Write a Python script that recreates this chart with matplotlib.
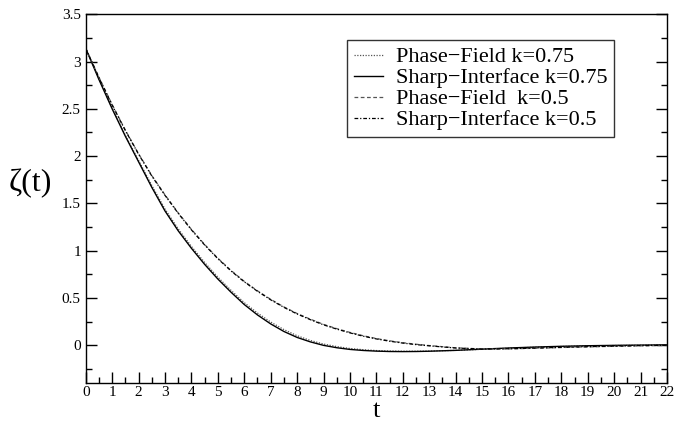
import matplotlib
matplotlib.use("Agg")
import matplotlib.pyplot as plt
from matplotlib.ticker import MultipleLocator

plt.rcParams['font.family'] = ['Liberation Serif', 'DejaVu Serif']

t = [0, 0.5, 1, 1.5, 2, 2.5, 3, 3.5, 4, 4.5, 5, 5.5, 6, 6.5, 7, 7.5, 8, 8.5,
     9, 9.5, 10, 10.5, 11, 11.5, 12, 12.5, 13, 14, 15, 16, 17, 18, 19, 20, 21, 22]

pf_075 = [3.14, 2.82, 2.51, 2.22, 1.955, 1.69, 1.44, 1.23, 1.045, 0.875, 0.72, 0.58, 0.45,
          0.34, 0.245, 0.165, 0.10, 0.05, 0.012, -0.015, -0.035, -0.048, -0.057, -0.062, -0.064,
          -0.064, -0.062, -0.055, -0.044, -0.032, -0.022, -0.014, -0.008, -0.004, -0.001, 0.001]
si_075 = [3.14, 2.81, 2.50, 2.21, 1.94, 1.67, 1.42, 1.21, 1.025, 0.855, 0.70, 0.56, 0.43,
          0.32, 0.225, 0.145, 0.082, 0.035, -0.002, -0.027, -0.045, -0.056, -0.063, -0.067, -0.068,
          -0.067, -0.064, -0.055, -0.042, -0.030, -0.020, -0.012, -0.006, -0.002, 0.001, 0.003]
pf_05 = [3.14, 2.835, 2.545, 2.275, 2.025, 1.795, 1.59, 1.40, 1.225, 1.065, 0.92, 0.79, 0.675,
         0.575, 0.485, 0.405, 0.335, 0.275, 0.22, 0.175, 0.135, 0.10, 0.07, 0.046, 0.026, 0.01,
         -0.004, -0.028, -0.04, -0.039, -0.033, -0.025, -0.018, -0.012, -0.007, -0.003]
si_05 = [3.14, 2.83, 2.54, 2.27, 2.02, 1.79, 1.585, 1.395, 1.22, 1.06, 0.915, 0.785, 0.67,
         0.57, 0.48, 0.40, 0.33, 0.27, 0.215, 0.17, 0.13, 0.095, 0.066, 0.042, 0.022, 0.006,
         -0.007, -0.03, -0.041, -0.038, -0.031, -0.023, -0.016, -0.010, -0.005, -0.001]

labels = ["Phase\u2212Field k=0.75", "Sharp\u2212Interface k=0.75",
          "Phase\u2212Field  k=0.5", "Sharp\u2212Interface k=0.5"]

fig = plt.figure(figsize=(6.76, 4.23), dpi=100)
ax = fig.add_axes([0.1268, 0.0946, 0.8599, 0.8716])

ax.plot(t, pf_075, color='#555555', lw=0.9, linestyle=(0, (1, 1.2)), label=labels[0])
ax.plot(t, si_075, color='black', lw=1.0, linestyle='-', label=labels[1])
ax.plot(t, pf_05, color='#555555', lw=0.9, linestyle=(0, (3, 2)), label=labels[2])
ax.plot(t, si_05, color='black', lw=0.9, linestyle=(0, (3, 1.5, 1, 1.5)), label=labels[3])

ax.set_xlim(0, 22)
ax.set_ylim(-0.4, 3.5)
ax.xaxis.set_major_locator(MultipleLocator(1))
ax.xaxis.set_minor_locator(MultipleLocator(0.5))
ax.yaxis.set_minor_locator(MultipleLocator(0.25))
ax.set_yticks([0, 0.5, 1, 1.5, 2, 2.5, 3, 3.5])
ax.set_yticklabels(['0', '0.5', '1', '1.5', '2', '2.5', '3', '3.5'])
ax.tick_params(which='both', direction='in', top=False, right=True, labelsize=11, width=1.0)
ax.tick_params(axis='x', which='major', pad=2.5)
ax.tick_params(which='major', length=8)
ax.tick_params(which='minor', length=4)
for s in ax.spines.values():
    s.set_linewidth(1.0)

ax.set_xlabel('t', fontsize=19)
ax.xaxis.set_label_coords(0.5, -0.045)
ax.set_ylabel('\u03b6(t)', fontsize=23, rotation=0)
ax.yaxis.set_label_coords(-0.096, 0.50)

leg = ax.legend(loc='upper left', bbox_to_anchor=(0.4495, 0.930), borderaxespad=0,
                fontsize=16, frameon=True, fancybox=False, handlelength=1.3,
                handletextpad=0.6, labelspacing=0.02, borderpad=0.3)
leg.get_frame().set_edgecolor('black')
leg.get_frame().set_linewidth(1.0)

fig.savefig('out.png', dpi=100)
